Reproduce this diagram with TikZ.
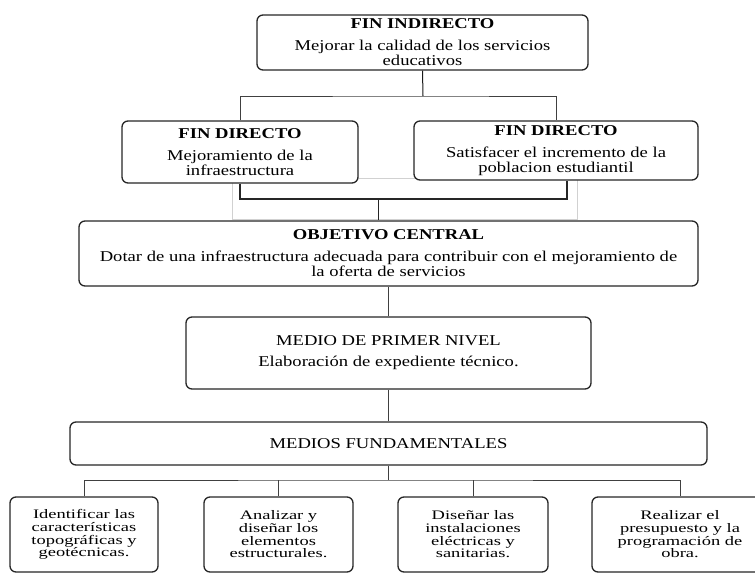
\documentclass[tikz,border=0pt]{standalone}
\usepackage{fontspec}
\setmainfont{Liberation Serif}[FakeStretch=1.24]
\newfontfamily\widefam{Liberation Serif}[FakeStretch=1.42]
\usetikzlibrary{calc}
\begin{document}
\begin{tikzpicture}[x=1pt,y=-1pt,
  box/.style={draw=black!85,line width=1.3pt,rounded corners=6pt,fill=white,
    inner sep=0pt,align=center,anchor=center,
    font=\fontsize{15}{15}\selectfont},
  smallbox/.style={box,font=\widefam\fontsize{13}{12.7}\selectfont},
  conn/.style={draw=black!75,line width=1pt},
  faint/.style={draw=black!18,line width=0.8pt}]
\useasboundingbox (0,0) rectangle (755,573);
\clip (0,0) rectangle (755,573);
% faint artifact rectangle
\draw[faint] (232,178) rectangle (577,219);
% nodes
\node[box,minimum width=331pt,minimum height=55pt] (top) at (422.5,42.5)
  {\textbf{FIN INDIRECTO}\\[7pt]Mejorar la calidad de los servicios\\educativos};
\node[box,minimum width=236pt,minimum height=62pt] (fdl) at (240,152)
  {\textbf{FIN DIRECTO}\\[7pt]Mejoramiento de la\\infraestructura};
\node[box,minimum width=284pt,minimum height=59pt] (fdr) at (556,150.5)
  {\textbf{FIN DIRECTO}\\[7pt]Satisfacer el incremento de la\\poblacion estudiantil};
\node[box,minimum width=619pt,minimum height=65pt] (obj) at (388.5,253.5)
  {\textbf{OBJETIVO CENTRAL}\\[7pt]Dotar de una infraestructura adecuada para contribuir con el mejoramiento de\\la oferta de servicios};
\node[box,minimum width=405pt,minimum height=72pt] (medio) at (388.5,353)
  {MEDIO DE PRIMER NIVEL\\[6pt]Elaboración de expediente técnico.};
\node[box,minimum width=637pt,minimum height=43pt] (mf) at (388.5,443.5)
  {MEDIOS FUNDAMENTALES};
\node[smallbox,minimum width=148pt,minimum height=75pt] (b1) at (84,534.5)
  {Identificar las\\características\\topográficas y\\geotécnicas.};
\node[smallbox,minimum width=149pt,minimum height=75pt] (b2) at (278.5,534.5)
  {Analizar y\\diseñar los\\elementos\\estructurales.};
\node[smallbox,minimum width=150pt,minimum height=75pt] (b3) at (473,534.5)
  {Diseñar las\\instalaciones\\eléctricas y\\sanitarias.};
\node[smallbox,minimum width=176pt,minimum height=75pt] (b4) at (680,534.5)
  {Realizar el\\presupuesto y la\\programación de\\obra.};
% junctions
\coordinate (j1) at (423,96);
\coordinate (j2) at (378,199);
\coordinate (j3) at (388.5,480);
% connectors
\draw[conn,draw=black!90] (top.south) -- (j1);
\draw[conn] (fdl.north) |- (j1) -| (fdr.north);
\draw[conn,draw=black!85,line width=1.2pt] (fdl.south) |- (j2) -| ([xshift=11pt]fdr.south);
\draw[conn,draw=black!85] (j2) -- (j2 |- obj.north);
\draw[conn] (obj.south) -- (medio.north);
\draw[conn] (medio.south) -- (mf.south |- mf.north);
\draw[conn] (mf.south) -- (j3);
\draw[conn] (b1.north) |- (j3) -| (b4.north);
\draw[conn] (b2.north) -- (b2.north |- j3);
\draw[conn] (b3.north) -- (b3.north |- j3);
\end{tikzpicture}
\end{document}
